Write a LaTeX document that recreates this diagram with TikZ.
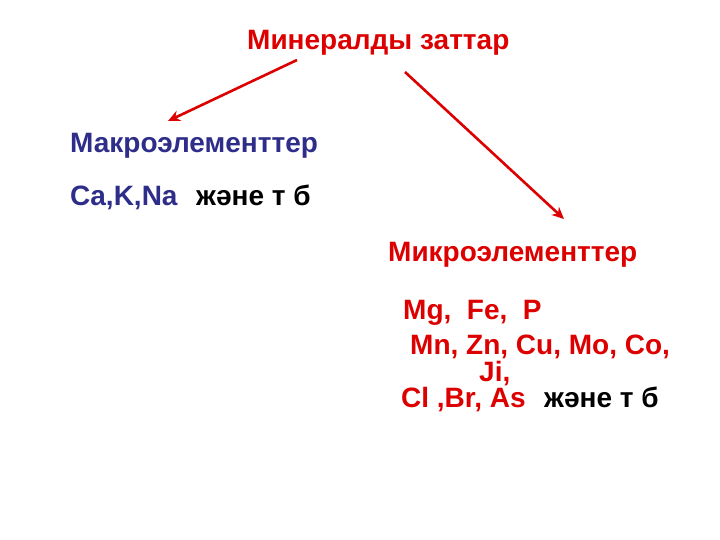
\documentclass[tikz,border=0pt]{standalone}
\usetikzlibrary{arrows.meta}
\usepackage{fontspec}
\setmainfont{Liberation Sans}
\definecolor{tred}{HTML}{DD0000}
\definecolor{tblue}{HTML}{2E2E8A}
\begin{document}
\begin{tikzpicture}[x=1pt,y=-1pt,
  lbl/.style={anchor=base west,inner sep=0pt,font=\bfseries\fontsize{28}{30}\selectfont},
  arr/.style={draw=tred,line width=2.6pt,-{Stealth[length=12pt,width=11pt]}}]
\useasboundingbox (0,0) rectangle (720,540);
\node[lbl,text=tred] (title) at (247,50) {Минералды заттар};
\coordinate (s1) at (297,60);
\coordinate (e1) at (168,121);
\coordinate (s2) at (405,72);
\coordinate (e2) at (564,219);
\draw[arr] (s1) -- (e1);
\draw[arr] (s2) -- (e2);
\node[lbl,text=tblue] (macro) at (70,153) {Макроэлементтер};
\node[lbl,text=tblue] (ca) at (70,206) {Ca,K,Na};
\node[lbl,text=black] (ca2) at (196,206) {жəне т б};
\node[lbl,text=tred] (micro) at (388,261) {Микроэлементтер};
\node[lbl,text=tred] (mg) at (403,319) {Mg,\ \ Fe,\ \ P};
\node[lbl,text=tred] (mn) at (410,354) {Mn, Zn, Cu, Mo, Co,};
\node[lbl,text=tred] (ji) at (479,381) {Ji,};
\node[lbl,text=tred] (cl) at (401,407) {Cl ,Br, As};
\node[lbl,text=black] (cl2) at (544,407) {жəне т б};
\end{tikzpicture}
\end{document}
